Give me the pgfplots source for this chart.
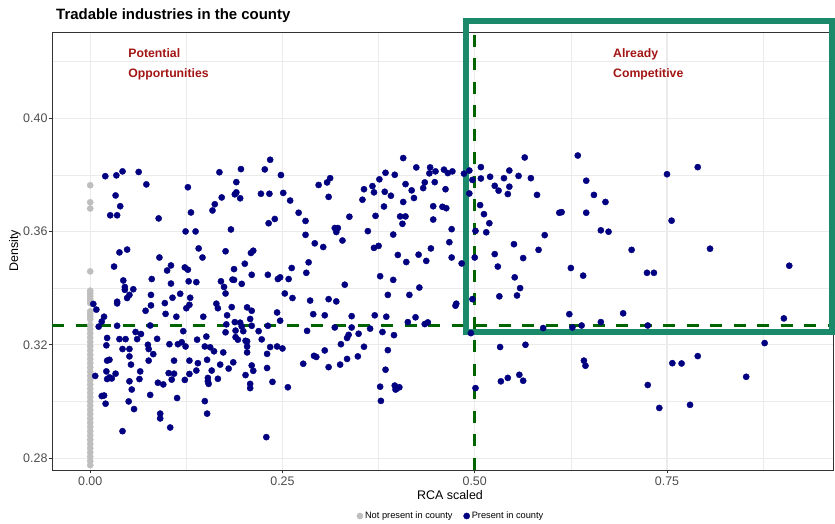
\documentclass[border=0pt]{standalone}
\usepackage{fontspec}
\setmainfont{Liberation Sans}
\usepackage{pgfplots}
\pgfplotsset{compat=1.18}
\usepackage{pgfplotstable}
\definecolor{navyc}{HTML}{000080}
\definecolor{greyc}{HTML}{BEBEBE}
\definecolor{gridc}{HTML}{EBEBEB}
\definecolor{ticklab}{HTML}{4D4D4D}
\definecolor{dgreen}{HTML}{006400}
\definecolor{tealbox}{HTML}{1B8A6B}
\definecolor{annot}{HTML}{A31515}

\pgfplotstableread{
x y
0 0.3763
0 0.3703
0 0.3681
0 0.3459
0 0.3391
0 0.3382
0 0.3372
0 0.3362
0 0.3352
0 0.3347
0 0.3318
0 0.3310
0 0.3300
0 0.3290
0 0.3270
0 0.3255
0 0.3240
0 0.3225
0 0.3210
0 0.3195
0 0.3180
0 0.3165
0 0.3150
0 0.3135
0 0.3120
0 0.3105
0 0.3090
0 0.3075
0 0.3060
0 0.3045
0 0.3030
0 0.3015
0 0.3000
0 0.2985
0 0.2970
0 0.2955
0 0.2940
0 0.2925
0 0.2910
0 0.2895
0 0.2880
0 0.2865
0 0.2850
0 0.2835
0 0.2820
0 0.2805
0 0.2790
0 0.2775
}\notpresent

\pgfplotstableread{
x y
0.0196 0.3795
0.034 0.3798
0.042 0.3812
0.063 0.3810
0.073 0.3766
0.033 0.3727
0.039 0.3689
0.026 0.3657
0.035 0.3657
0.089 0.3646
0.127 0.3756
0.131 0.3667
0.124 0.3600
0.137 0.3600
0.168 0.3809
0.196 0.3820
0.190 0.3774
0.171 0.3720
0.162 0.3696
0.159 0.3674
0.188 0.3731
0.190 0.3738
0.195 0.3717
0.183 0.3607
0.038 0.3526
0.048 0.3536
0.090 0.3508
0.141 0.3540
0.146 0.3508
0.176 0.3530
0.234 0.3853
0.227 0.3819
0.248 0.3799
0.222 0.3733
0.233 0.3733
0.251 0.3736
0.260 0.3709
0.271 0.3666
0.280 0.3637
0.232 0.3629
0.240 0.3644
0.280 0.3588
0.292 0.3558
0.303 0.3545
0.297 0.3764
0.308 0.3773
0.312 0.3788
0.310 0.3722
0.337 0.3652
0.318 0.3612
0.322 0.3612
0.320 0.3598
0.328 0.3568
0.209 0.3524
0.212 0.3532
0.356 0.3749
0.354 0.3712
0.367 0.3760
0.369 0.3738
0.376 0.3784
0.384 0.3807
0.396 0.3800
0.407 0.3859
0.383 0.3740
0.391 0.3726
0.382 0.3688
0.371 0.3655
0.361 0.3601
0.394 0.3589
0.407 0.3704
0.410 0.3767
0.418 0.3745
0.421 0.3718
0.403 0.3653
0.410 0.3653
0.406 0.3627
0.424 0.3826
0.433 0.3753
0.435 0.3773
0.442 0.3826
0.441 0.3805
0.449 0.3812
0.448 0.3774
0.446 0.3689
0.458 0.3687
0.446 0.3642
0.369 0.3542
0.375 0.3549
0.400 0.3517
0.427 0.3518
0.443 0.3540
0.460 0.3818
0.465 0.3806
0.471 0.3812
0.486 0.3804
0.493 0.3815
0.497 0.3782
0.508 0.3827
0.508 0.3787
0.520 0.3793
0.565 0.3861
0.545 0.3815
0.538 0.3788
0.557 0.3796
0.573 0.3788
0.526 0.3761
0.531 0.3744
0.545 0.3758
0.543 0.3732
0.581 0.3729
0.634 0.3868
0.645 0.3779
0.655 0.3729
0.670 0.3704
0.645 0.3666
0.610 0.3666
0.613 0.3668
0.462 0.3749
0.493 0.3734
0.463 0.3682
0.507 0.3693
0.512 0.3661
0.519 0.3629
0.515 0.3597
0.501 0.3602
0.470 0.3608
0.467 0.3562
0.591 0.3587
0.664 0.3604
0.674 0.3599
0.551 0.3555
0.583 0.3535
0.526 0.3520
0.563 0.3506
0.704 0.3535
0.470 0.3508
0.500 0.3508
0.750 0.3802
0.790 0.3827
0.756 0.3638
0.806 0.3539
0.031 0.3476
0.105 0.3480
0.100 0.3462
0.123 0.3473
0.127 0.3465
0.201 0.3486
0.187 0.3467
0.080 0.3432
0.105 0.3416
0.128 0.3424
0.138 0.3421
0.043 0.3427
0.045 0.3404
0.045 0.3394
0.056 0.3396
0.051 0.3376
0.048 0.3365
0.035 0.3352
0.035 0.3346
0.079 0.3376
0.107 0.3366
0.117 0.3380
0.130 0.3366
0.129 0.3341
0.125 0.3329
0.170 0.3424
0.174 0.3404
0.176 0.3381
0.185 0.3430
0.187 0.3429
0.197 0.3415
0.164 0.3345
0.166 0.3329
0.184 0.3333
0.079 0.3339
0.072 0.3320
0.097 0.3347
0.098 0.3309
0.112 0.3299
0.147 0.3299
0.178 0.3304
0.177 0.3272
0.188 0.3280
0.195 0.3278
0.197 0.3265
0.004 0.3344
0.008 0.3324
0.018 0.3299
0.015 0.3282
0.011 0.3264
0.035 0.3267
0.059 0.3245
0.066 0.3238
0.078 0.3268
0.121 0.3248
0.139 0.3218
0.151 0.3229
0.176 0.3244
0.189 0.3250
0.199 0.3248
0.189 0.3227
0.192 0.3218
0.202 0.3214
0.204 0.3212
0.022 0.3224
0.038 0.3220
0.046 0.3220
0.061 0.3220
0.021 0.3198
0.042 0.3185
0.051 0.3185
0.075 0.3200
0.076 0.3185
0.082 0.3167
0.087 0.3221
0.103 0.3202
0.114 0.3202
0.119 0.3209
0.124 0.3194
0.149 0.3194
0.156 0.3191
0.161 0.3177
0.173 0.3173
0.051 0.3159
0.022 0.3144
0.025 0.3147
0.053 0.3130
0.076 0.3144
0.109 0.3144
0.129 0.3144
0.140 0.3135
0.152 0.3147
0.169 0.3130
0.186 0.3138
0.210 0.3447
0.231 0.3447
0.244 0.3432
0.247 0.3438
0.258 0.3432
0.262 0.3471
0.284 0.3491
0.281 0.3454
0.253 0.3381
0.263 0.3365
0.286 0.3356
0.310 0.3361
0.320 0.3353
0.331 0.3412
0.377 0.3442
0.394 0.3429
0.411 0.3492
0.437 0.3496
0.387 0.3376
0.415 0.3376
0.428 0.3402
0.204 0.3332
0.210 0.3320
0.208 0.3291
0.243 0.3314
0.247 0.3285
0.290 0.3308
0.305 0.3304
0.340 0.3301
0.370 0.3304
0.385 0.3299
0.413 0.3280
0.423 0.3297
0.435 0.3273
0.439 0.3279
0.231 0.3267
0.210 0.3267
0.219 0.3248
0.223 0.3219
0.282 0.3249
0.318 0.3261
0.340 0.3261
0.336 0.3235
0.334 0.3224
0.349 0.3239
0.364 0.3257
0.380 0.3245
0.395 0.3234
0.204 0.3194
0.204 0.3173
0.234 0.3192
0.243 0.3194
0.250 0.3187
0.230 0.3168
0.326 0.3202
0.356 0.3193
0.305 0.3180
0.387 0.3181
0.291 0.3161
0.294 0.3157
0.334 0.3150
0.348 0.3159
0.277 0.3133
0.310 0.3121
0.325 0.3130
0.210 0.3127
0.230 0.3118
0.384 0.3112
0.483 0.3487
0.530 0.3476
0.552 0.3438
0.559 0.3400
0.555 0.3374
0.532 0.3371
0.476 0.3345
0.475 0.3338
0.497 0.3361
0.625 0.3471
0.641 0.3444
0.623 0.3308
0.664 0.3280
0.693 0.3311
0.589 0.3259
0.627 0.3261
0.639 0.3268
0.495 0.3241
0.533 0.3192
0.566 0.3200
0.642 0.3144
0.644 0.3126
0.724 0.3454
0.733 0.3454
0.909 0.3479
0.725 0.3268
0.902 0.3293
0.877 0.3206
0.757 0.3135
0.769 0.3134
0.790 0.3160
0.0065 0.3090
0.021 0.3106
0.022 0.3079
0.025 0.3085
0.028 0.3081
0.033 0.3098
0.051 0.3071
0.065 0.3106
0.064 0.3079
0.054 0.3042
0.015 0.3019
0.018 0.3021
0.020 0.2992
0.050 0.3000
0.057 0.2973
0.078 0.3023
0.088 0.3066
0.095 0.3060
0.102 0.3100
0.109 0.3098
0.106 0.3077
0.113 0.3012
0.123 0.3076
0.129 0.3097
0.138 0.3109
0.091 0.2957
0.091 0.2940
0.104 0.2908
0.042 0.2895
0.149 0.3001
0.152 0.2957
0.153 0.3083
0.153 0.3071
0.154 0.3062
0.166 0.3080
0.158 0.3109
0.180 0.3116
0.202 0.3093
0.212 0.3108
0.208 0.3062
0.208 0.3047
0.237 0.3069
0.257 0.3050
0.229 0.2874
0.377 0.3052
0.378 0.3002
0.396 0.3056
0.398 0.3044
0.402 0.3050
0.397 0.3042
0.501 0.3047
0.534 0.3071
0.543 0.3083
0.558 0.3094
0.563 0.3073
0.725 0.3058
0.740 0.2977
0.780 0.2988
0.853 0.3087
}\present

\begin{document}
\begin{tikzpicture}[x=1bp,y=1bp]
\path[use as bounding box] (0,0) rectangle (835,524);
\begin{axis}[
  at={(52bp,54bp)}, anchor=south west,
  scale only axis, width=781bp, height=438bp,
  xmin=-0.0497, xmax=0.9659, ymin=0.2758, ymax=0.4304,
  xtick={0,0.25,0.5,0.75}, xticklabels={0.00,0.25,0.50,0.75},
  ytick={0.28,0.32,0.36,0.40}, yticklabels={0.28,0.32,0.36,0.40},
  minor xtick={0.125,0.375,0.625,0.875},
  minor ytick={0.30,0.34,0.38,0.42},
  grid=both,
  major grid style={draw=gridc, line width=1.1bp},
  minor grid style={draw=gridc, line width=0.55bp},
  axis line style={draw=black!80, line width=0.55bp},
  tick pos=left, tick align=outside,
  major tick style={draw=black!80, line width=0.55bp},
  major tick length=3.5bp, minor tick length=0bp,
  ticklabel style={font=\fontsize{12.5}{14}\selectfont, text=ticklab},
  yticklabel style={xshift=2.5bp},
  clip=false,
  legend columns=2,
  legend style={at={(0.511,-0.105)}, anchor=center, draw=none, fill=none,
    font=\fontsize{9.3}{11}\selectfont,
    /tikz/every even column/.append style={column sep=9bp}},
  legend cell align=left,
]
\addplot[only marks, mark=*, color=greyc, mark size=3.1bp] table[x=x,y=y] {\notpresent};
\addlegendentry{Not present in county}
\addplot[only marks, mark=*, color=navyc, mark size=3.1bp] table[x=x,y=y] {\present};
\addlegendentry{Present in county}
\addplot[dgreen, line width=3bp, dash pattern=on 12bp off 11.5bp, forget plot] coordinates {(-0.0497,0.3267) (0.9659,0.3267)};
\addplot[dgreen, line width=3bp, dash pattern=on 12bp off 11.5bp, forget plot] coordinates {(0.5,0.2758) (0.5,0.4304)};
\draw[tealbox, line width=6bp] (axis cs:0.4888,0.3246) rectangle (axis cs:0.9646,0.4343);
\node[anchor=west, align=left, text=annot, inner sep=0, font=\bfseries\fontsize{12.3}{20}\selectfont] at (axis cs:0.0494,0.4190) {Potential\\Opportunities};
\node[anchor=west, align=left, text=annot, inner sep=0, font=\bfseries\fontsize{12.3}{20}\selectfont] at (axis cs:0.6798,0.4190) {Already\\Competitive};
\end{axis}
\node[anchor=base west, inner sep=0, font=\bfseries\fontsize{15}{18}\selectfont] at (56,504) {Tradable industries in the county};
\node[rotate=90, inner sep=0, font=\fontsize{12.5}{15}\selectfont] at (15,273) {Density};
\node[inner sep=0, font=\fontsize{12.5}{15}\selectfont] at (450,29) {RCA scaled};
\end{tikzpicture}
\end{document}
